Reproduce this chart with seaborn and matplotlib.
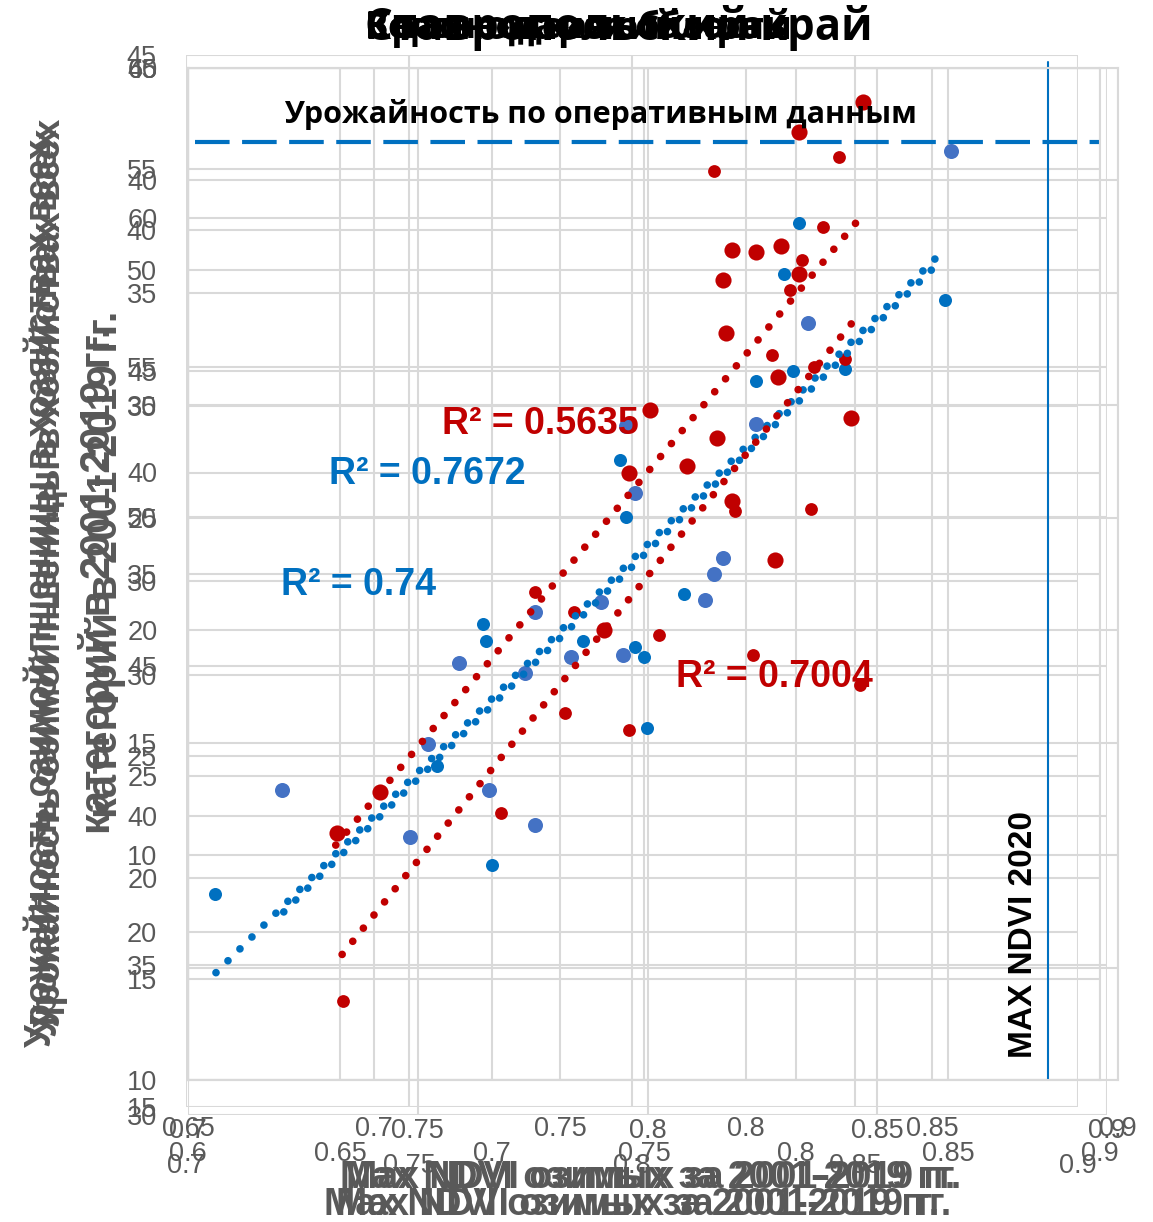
import matplotlib
matplotlib.use("Agg")
import matplotlib.pyplot as plt
import numpy as np
import pandas as pd
import seaborn as sns

W, H = 1153, 1222
sns.set_theme(style="white")
FONT = ["Liberation Sans", "DejaVu Sans"]
plt.rcParams["font.family"] = FONT

# ---------------- data ----------------
red_big_x = [0.822, 0.801, 0.779, 0.787, 0.795, 0.801, 0.776, 0.777, 0.794, 0.752,
             0.818, 0.774, 0.764, 0.779, 0.793, 0.745, 0.737, 0.663, 0.649]
red_big_y = [58.3, 56.8, 51.0, 50.9, 51.2, 49.8, 49.5, 46.9, 44.7, 43.1,
             42.7, 41.7, 40.3, 38.6, 35.7, 40.0, 32.2, 24.2, 22.2]

red_small_x = [0.814, 0.773, 0.809, 0.802, 0.798, 0.792, 0.816, 0.806, 0.780, 0.805,
               0.755, 0.786, 0.821, 0.714, 0.727, 0.724, 0.745, 0.703, 0.651]
red_small_y = [55.6, 54.9, 52.1, 50.5, 49.0, 45.8, 45.6, 45.2, 38.1, 38.2,
               32.0, 31.0, 29.5, 34.1, 33.1, 28.1, 27.3, 23.2, 13.9]

blue_x = [0.801, 0.796, 0.849, 0.787, 0.799, 0.816, 0.763, 0.750, 0.751, 0.697,
          0.698, 0.730, 0.747, 0.682, 0.700, 0.609, 0.742, 0.744]
blue_y = [52.3, 49.8, 48.5, 44.5, 45.0, 45.1, 34.0, 30.9, 27.4, 32.5,
          31.7, 31.7, 31.4, 25.5, 20.6, 19.2, 40.6, 37.8]

lblue_x = [0.851, 0.804, 0.787, 0.776, 0.773, 0.770, 0.714, 0.736, 0.689, 0.711,
           0.726, 0.743, 0.679, 0.631, 0.699, 0.714, 0.673, 0.744, 0.747]
lblue_y = [55.9, 47.4, 42.4, 35.8, 35.0, 33.7, 33.1, 33.6, 30.6, 30.1,
           30.9, 31.0, 26.6, 24.3, 24.3, 22.6, 22.0, 42.3, 39.0]

blue_trend1_x = [0.6092, 0.8481]
blue_trend1_y = [15.3, 50.9]
blue_trend2_x = [0.6315, 0.8479]
blue_trend2_y = [18.3, 50.5]
red_trend1_x = [0.6486, 0.8201]
red_trend1_y = [21.6, 52.4]
red_trend2_x = [0.6507, 0.8185]
red_trend2_y = [16.2, 47.4]

r2_labels = ["R\u00b2 = 0.5635", "R\u00b2 = 0.7672", "R\u00b2 = 0.74", "R\u00b2 = 0.7004"]

operational_yield = 56.3
ndvi_2020 = 0.883

# axis ticks of the overlapped charts
xA_ticks = [0.6, 0.65, 0.7, 0.75, 0.8, 0.85, 0.9]
xA_labels = ["0.6", "0.65", "0.7", "0.75", "0.8", "0.85", "0.9"]
xB_ticks = [0.65, 0.7, 0.75, 0.8, 0.85, 0.9]
xB_labels = ["0.65", "0.7", "0.75", "0.8", "0.85", "0.9"]
xC_ticks = [0.7, 0.75, 0.8, 0.85, 0.9]
xC_labels = ["0.7", "0.75", "0.8", "0.85", "0.9"]
xD_ticks = [0.7, 0.75, 0.8, 0.85, 0.9]
xD_labels = ["0.7", "0.75", "0.8", "0.85", "0.9"]

yA_ticks = [10, 15, 20, 25, 30, 35, 40, 45, 50, 55, 60]
yA_labels = ["10", "15", "20", "25", "30", "35", "40", "45", "50", "55", "60"]
yB_ticks = [0, 5, 10, 15, 20, 25, 30, 35, 40, 45]
yB_labels = ["", "", "10", "15", "20", "25", "30", "35", "40", "45"]
yC_ticks = [30, 35, 40, 45, 50, 55, 60, 65]
yC_labels = ["30", "35", "40", "45", "50", "55", "60", "65"]
yD_ticks = [15, 20, 25, 30, 35, 40, 45]
yD_labels = ["15", "20", "25", "30", "35", "40", "45"]

titles = ["Белгородская область", "Краснодарский край", "Воронежская область", "Ставропольский край"]
x_title = "Max NDVI озимых за 2001-2019 гг."
y_title_1 = "Урожайность озимой пшеницы в хозяйствах всех"
y_title_2 = "категорий в 2001-2019 гг."

RED = "#C00000"
BLUE = "#0070C0"
LBLUE = "#4472C4"
GRID = "#D9D9D9"
TXT = "#595959"
TICK_FS = 19.5


def rect(l, r, t, b):
    return [l / W, 1 - b / H, (r - l) / W, (b - t) / H]


def fx(px):
    return px / W


def fy(py):
    return 1 - py / H


fig = plt.figure(figsize=(W / 100, H / 100), dpi=100)
fig.patch.set_facecolor("white")


def overlay(l, r, t, b, xlim, ylim, xt, xl, yt, yl, xpad, ypad, spines=False):
    o = fig.add_axes(rect(l, r, t, b), zorder=1)
    o.set_facecolor("none")
    o.set_xlim(xlim)
    o.set_ylim(ylim)
    o.set_xticks(xt, xl)
    o.set_yticks(yt, yl)
    o.grid(True, color=GRID, lw=1.5)
    o.tick_params(length=0, labelsize=TICK_FS, labelcolor=TXT)
    o.tick_params(axis="x", pad=xpad)
    o.tick_params(axis="y", pad=ypad)
    for s in o.spines.values():
        s.set_visible(spines)
        s.set_color(GRID)
        s.set_linewidth(1.5)
    return o


# overlapped chart frames / grids / tick labels
overlay(188, 1118, 68, 1080, (0.65, 0.9), (0, 45), xB_ticks, xB_labels, yB_ticks, yB_labels, 26, 22, spines=True)
overlay(188, 1107, 68, 1115, (0.7, 0.9), (30, 65), xC_ticks, xC_labels, yC_ticks, yC_labels, 2, 22)
overlay(186, 1078, 55, 1107, (0.7, 0.9), (15, 45), xD_ticks, xD_labels, yD_ticks, yD_labels, 33, 21)

# main chart
ax = fig.add_axes(rect(188, 1100, 67.5, 1080), zorder=3)
ax.set_facecolor("none")
ax.set_xlim(0.6, 0.9)
ax.set_ylim(10, 60)
ax.set_xticks(xA_ticks, xA_labels)
ax.set_yticks(yA_ticks, yA_labels)
ax.grid(True, color=GRID, lw=1.5)
ax.set_axisbelow(True)
ax.tick_params(length=0, labelsize=TICK_FS, labelcolor=TXT)
ax.tick_params(axis="x", pad=44)
ax.tick_params(axis="y", pad=22)
for s in ax.spines.values():
    s.set_color(GRID)
    s.set_linewidth(1.5)

series = [
    (lblue_x, lblue_y, LBLUE, 117),
    (blue_x, blue_y, BLUE, 88),
    (red_small_x, red_small_y, RED, 85),
    (red_big_x, red_big_y, RED, 135),
]
for xs, ys, col, size in series:
    df = pd.DataFrame({"ndvi": xs, "yield": ys})
    sns.scatterplot(data=df, x="ndvi", y="yield", color=col, s=size, linewidth=0, ax=ax, zorder=3)

dot = (0, (0.01, 2.2))
for xs, ys, col in [(blue_trend1_x, blue_trend1_y, BLUE), (blue_trend2_x, blue_trend2_y, BLUE),
                    (red_trend1_x, red_trend1_y, RED), (red_trend2_x, red_trend2_y, RED)]:
    sns.lineplot(x=xs, y=ys, color=col, lw=5.5, linestyle=dot, dash_capstyle="round",
                 sort=False, ax=ax, zorder=4)

ax.axhline(operational_yield, xmin=0.008, xmax=1.0, color=BLUE, lw=3, linestyle=(0, (8.3, 3)), zorder=2)
ax.axvline(ndvi_2020, ymin=0.0, ymax=1.005, color=BLUE, lw=1.5, clip_on=False, zorder=2)
ax.set_xlabel("")
ax.set_ylabel("")

# annotations
fig.text(fx(600), fy(114), "Урожайность по оперативным данным", ha="center", va="center",
         fontsize=22, weight="bold", color="black", family=["Open Sans", "DejaVu Sans"])
fig.text(fx(1023), fy(935), "MAX NDVI 2020", rotation=90, ha="center", va="center",
         fontsize=24, weight="bold", color="black")

r2_pos = [(540, 424, RED), (427, 474, BLUE), (359, 585, BLUE), (774, 677, RED)]
for lab, (px, py, col) in zip(r2_labels, r2_pos):
    fig.text(fx(px), fy(py), lab, ha="center", va="center", fontsize=27, weight="bold",
             color=col, zorder=10)

# overlapped titles
for t, size in zip(titles, [26, 28, 25, 31.5]):
    fig.text(fx(365), fy(28), t, ha="left", va="center", fontsize=size, weight="bold",
             color="black", family=["Open Sans", "DejaVu Sans"])

# overlapped axis titles
for dx in (-3, 3):
    fig.text(fx(651 + dx), fy(1178), x_title, ha="center", va="center", fontsize=27,
             weight="bold", color=TXT)
for dx in (-6, 6):
    fig.text(fx(638 + dx), fy(1205), x_title, ha="center", va="center", fontsize=27,
             weight="bold", color=TXT)
for dx, dy in ((-3, 10), (3, 0), (6, -10)):
    fig.text(fx(44 + dx), fy(583 + dy), y_title_1, rotation=90, ha="center", va="center",
             fontsize=26.5, weight="bold", color=TXT)
for dx, dy in ((-3, 8), (4, -8)):
    fig.text(fx(102 + dx), fy(572 + dy), y_title_2, rotation=90, ha="center", va="center",
             fontsize=30, weight="bold", color=TXT)

fig.savefig("out.png", dpi=100, facecolor="white")
